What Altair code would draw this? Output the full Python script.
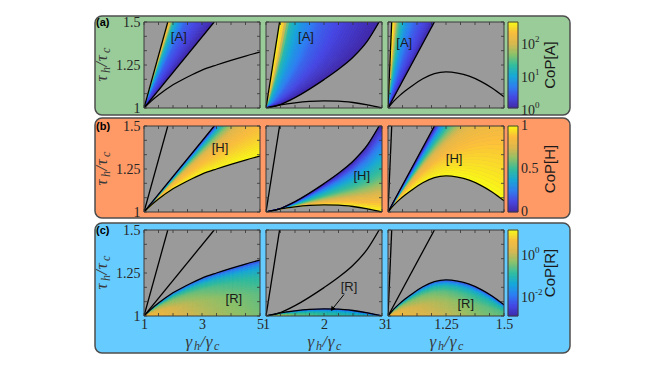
import numpy as np
import pandas as pd
import altair as alt

# ---------------- values ----------------
XDOM = [[1, 5], [1, 3], [1, 1.5]]
YDOM = [1.0, 1.5]
X_LABELS = [[1, 3, 5], [1, 2, 3], [1, 1.25, 1.5]]
Y_LABELS = [1, 1.25, 1.5]
X_MINOR = [[1, 1.5, 2, 2.5, 3, 3.5, 4, 4.5, 5],
           [1, 1.25, 1.5, 1.75, 2, 2.25, 2.5, 2.75, 3],
           [1, 1.0625, 1.125, 1.1875, 1.25, 1.3125, 1.375, 1.4375, 1.5]]
Y_MINOR = [1, 1.0833, 1.1667, 1.25, 1.3333, 1.4167, 1.5]

# straight boundary lines through (1,1): gamma where they reach tau = 1.5
L1_TOP = [1.82, 1.234, 1.016]
L2_TOP = [3.42, None, 1.2]
# convex boundary (middle column)
C2_G = [1.0, 1.25, 1.5, 1.75, 2.0, 2.25, 2.5, 2.75, 2.95]
C2_T = [1.0, 1.02, 1.06, 1.11, 1.165, 1.225, 1.295, 1.39, 1.5]
# lower curved boundary
C3_G = [[1, 1.25, 1.5, 2, 2.5, 3, 3.5, 4, 4.5, 5],
        [1, 1.25, 1.5, 1.75, 2, 2.25, 2.5, 2.75, 3],
        [1, 1.025, 1.05, 1.075, 1.1, 1.15, 1.2, 1.25, 1.3, 1.35, 1.4, 1.45, 1.5]]
C3_T = [[1, 1.04, 1.075, 1.135, 1.18, 1.22, 1.25, 1.277, 1.302, 1.325],
        [1, 1.018, 1.03, 1.038, 1.041, 1.04, 1.032, 1.018, 1.0],
        [1, 1.04, 1.072, 1.1, 1.125, 1.17, 1.2, 1.21, 1.203, 1.185, 1.155, 1.115, 1.065]]

# [A]: log10 CoP across the band (fraction from steep line to right boundary)
A_F = [[0, 0.02, 0.06, 0.09, 0.13, 0.24, 0.38, 0.75, 1.0],
       [0, 0.033, 0.05, 0.083, 0.117, 0.23, 0.4, 0.7, 1.0],
       [0, 0.06, 0.09, 0.14, 0.23, 0.35, 0.55, 0.86, 1.0]]
A_LOG = [2.6, 2.47, 2.08, 1.56, 1.17, 0.82, 0.5, 0.22, 0.0]
A_LOGMAX = 2.6

# [H]: CoP across the band (fraction from lower curve to upper boundary)
H_T = [[0, 0.2, 0.4, 0.55, 0.7, 0.82, 0.92, 0.97, 1.0],
       [0, 0.13, 0.27, 0.4, 0.6, 0.8, 0.93, 1.0],
       [0, 0.25, 0.44, 0.51, 0.61, 0.72, 0.83, 0.93, 1.0]]
H_COP = [[1, 0.92, 0.86, 0.79, 0.63, 0.47, 0.3, 0.14, 0.0],
         [1, 0.85, 0.7, 0.55, 0.4, 0.22, 0.08, 0.0],
         [1, 0.9, 0.8, 0.72, 0.58, 0.43, 0.28, 0.1, 0.0]]

# [R]: log10 CoP table (rows: gamma, columns: fraction of height under the curve)
R_T = [0, 0.4, 0.7, 0.85, 0.95, 1.0]
R_G = [[1, 2, 3, 4, 5], [1, 1.5, 2, 2.5, 3], [1, 1.1, 1.25, 1.4, 1.5]]
R_LOG = [
    [[0.67, 0.41, -0.14, -0.72, -1.53, -2.27],
     [0.20, 0.00, -0.48, -1.00, -1.70, -2.36],
     [-0.10, -0.28, -0.70, -1.16, -1.81, -2.41],
     [-0.35, -0.50, -0.88, -1.31, -1.91, -2.46],
     [-0.55, -0.70, -1.05, -1.45, -2.00, -2.50]],
    [[0.47, 0.22, -0.29, -0.85, -1.61, -2.31],
     [-0.55, -0.72, -1.09, -1.48, -2.02, -2.51],
     [-0.88, -1.03, -1.34, -1.69, -2.15, -2.58],
     [-1.08, -1.22, -1.50, -1.81, -2.23, -2.62],
     [-1.29, -1.40, -1.66, -1.94, -2.31, -2.66]],
    [[0.67, 0.41, -0.14, -0.72, -1.53, -2.27],
     [0.26, 0.04, -0.45, -0.98, -1.69, -2.35],
     [-0.06, -0.27, -0.71, -1.18, -1.82, -2.41],
     [-0.47, -0.65, -1.03, -1.43, -1.99, -2.49],
     [-0.63, -0.80, -1.16, -1.53, -2.05, -2.53]]]
R_LOGMIN, R_LOGMAX = -3.0, 1.08

# region tags
TAGS = {(0, 0): ("[A]", 2.2, 1.41), (0, 1): ("[A]", 1.69, 1.41), (0, 2): ("[A]", 1.07, 1.38),
        (1, 0): ("[H]", 3.62, 1.375), (1, 1): ("[H]", 2.65, 1.208), (1, 2): ("[H]", 1.285, 1.306),
        (2, 0): ("[R]", 4.1, 1.10), (2, 1): ("[R]", 2.43, 1.167), (2, 2): ("[R]", 1.335, 1.07)}
ARROW_G = [2.345, 2.15]
ARROW_T = [1.125, 1.043]

ROW_LETTERS = ["(a)", "(b)", "(c)"]
CB_TITLES = ["CoP[A]", "CoP[H]", "CoP[R]"]
CB_TICKS = [[1, 10, 100], [0, 0.5, 1], [1, 0.01]]
CB_BASE = [["10", "10", "10"], ["0", "0.5", "1"], ["10", "10"]]
CB_EXP = [["0", "1", "2"], ["", "", ""], ["0", "-2"]]

# ---------------- style ----------------
PARULA = ["#3e26a8", "#4545e6", "#2c7ef4", "#14a8da", "#2fbd9f", "#8cc26a",
          "#dcb84e", "#fcbd3c", "#f9fb14"]
PSTOPS = [0, 0.125, 0.25, 0.375, 0.5, 0.625, 0.75, 0.875, 1.0]
BG = ["#99cc99", "#ff9966", "#66ccff"]
BG_Y = [(-6, 93), (-8, 92), (-7, 123)]
GRAY = "#9a9a9a"
SERIF = "Liberation Serif"
SANS = "Liberation Sans"
W, H, CBW, DW = 116, 86, 6, 1
COLGAP, ROWGAP = 6, 18
P1_LEFT = DW + COLGAP          # left edge of first plot, relative to decoration view

CSC = alt.Scale(domain=PSTOPS, range=PARULA, interpolate="rgb")
ONE = pd.DataFrame({"k": [0]})


def interp_rows_a(c):
    taus = np.linspace(1, 1.5, 41)
    gl = 1 + (taus - 1) * (L1_TOP[c] - 1) / 0.5
    if c == 1:
        gr = np.interp(taus, C2_T, C2_G)
    else:
        gr = 1 + (taus - 1) * (L2_TOP[c] - 1) / 0.5
    fs = np.linspace(0, 1, 41)
    recs = []
    for k in range(len(fs) - 1):
        fm = 0.5 * (fs[k] + fs[k + 1])
        lv = float(np.interp(fm, A_F[c], A_LOG)) / A_LOGMAX
        for t, a, b in zip(taus, gl, gr):
            recs.append((k, round(t, 5), round(a + fs[k] * (b - a), 5),
                         round(a + fs[k + 1] * (b - a), 5), round(lv, 4)))
    return pd.DataFrame(recs, columns=["s", "t", "xa", "xb", "lv"])


def interp_rows_b(c):
    gs = np.linspace(XDOM[c][0], XDOM[c][1], 61)
    lo = np.interp(gs, C3_G[c], C3_T[c])
    if c == 1:
        hi = np.interp(gs, C2_G, C2_T)
    else:
        hi = 1 + (gs - 1) * 0.5 / (L2_TOP[c] - 1)
    ts = np.linspace(0, 1, 41)
    recs = []
    for k in range(len(ts) - 1):
        tm = 0.5 * (ts[k] + ts[k + 1])
        lv = float(np.interp(tm, H_T[c], H_COP[c]))
        for g, a, b in zip(gs, lo, hi):
            recs.append((k, round(g, 5), round(a + ts[k] * (b - a), 5),
                         round(a + ts[k + 1] * (b - a), 5), round(lv, 4)))
    return pd.DataFrame(recs, columns=["s", "g", "ya", "yb", "lv"])


def interp_cells_c(c):
    ge = np.linspace(XDOM[c][0], XDOM[c][1], 91)
    te = np.linspace(0, 1, 25)
    tab = np.array(R_LOG[c])
    recs = []
    for i in range(len(ge) - 1):
        gm = 0.5 * (ge[i] + ge[i + 1])
        top = float(np.interp(gm, C3_G[c], C3_T[c]))
        prof = [np.interp(gm, R_G[c], tab[:, j]) for j in range(len(R_T))]
        for j in range(len(te) - 1):
            tm = 0.5 * (te[j] + te[j + 1])
            lg = float(np.interp(tm, R_T, prof))
            lv = (lg - R_LOGMIN) / (R_LOGMAX - R_LOGMIN)
            recs.append((round(ge[i], 5), round(ge[i + 1], 5),
                         round(1 + te[j] * (top - 1), 5), round(1 + te[j + 1] * (top - 1), 5),
                         round(lv, 4)))
    return pd.DataFrame(recs, columns=["xa", "xb", "ya", "yb", "lv"])


def lines_df(c):
    recs = [("L1", 0, 1.0, 1.0), ("L1", 1, L1_TOP[c], 1.5)]
    if c == 1:
        recs += [("C2", i, g, t) for i, (g, t) in enumerate(zip(C2_G, C2_T))]
    else:
        recs += [("L2", 0, 1.0, 1.0), ("L2", 1, L2_TOP[c], 1.5)]
    recs += [("C3", i, g, t) for i, (g, t) in enumerate(zip(C3_G[c], C3_T[c]))]
    return pd.DataFrame(recs, columns=["curve", "i", "g", "t"])


def title_pieces(kind, x, y):
    # composite italic serif title with subscripts
    sym = "τ" if kind == "y" else "γ"
    pieces = [(sym, 0, 0, 17), ("h", 8.6, 3, 12), ("/", 14.8, 0, 17), (sym, 20.2, 0, 17), ("c", 28.4, 3, 12)]
    out = []
    for s, off, sub, size in pieces:
        kw = dict(text=s, font=SERIF, fontStyle="italic", fontSize=size, align="left",
                  baseline="alphabetic", dx=off - 16.5, dy=sub, color="#3a3a3a")
        if kind == "y":
            kw["angle"] = 270
        out.append(alt.Chart(ONE).mark_text(**kw).encode(x=alt.value(x), y=alt.value(y)))
    return out


def decoration(r):
    """Row background panel, row letter and the y title (drawn first in each row)."""
    y0, y1 = BG_Y[r]
    layers = [alt.Chart(ONE).mark_rect(cornerRadius=7, fill=BG[r], stroke="#4d4d4d", strokeWidth=1.5)
              .encode(x=alt.value(P1_LEFT - 49), x2=alt.value(P1_LEFT + 426),
                      y=alt.value(y0), y2=alt.value(y1))]
    layers.append(alt.Chart(ONE).mark_text(text=ROW_LETTERS[r], font=SANS, fontWeight="bold",
                                           fontSize=11, align="left", baseline="middle", color="black")
                  .encode(x=alt.value(P1_LEFT - 48), y=alt.value(1)))
    layers += title_pieces("y", P1_LEFT - 37, H / 2)
    return alt.layer(*layers).properties(width=DW, height=H)


def panel(r, c):
    xsc = alt.Scale(domain=XDOM[c], nice=False, zero=False)
    ysc = alt.Scale(domain=YDOM, nice=False, zero=False)
    if r == 2:
        xax = alt.Axis(values=X_LABELS[c], labelExpr="'' + datum.value", labelFlush=False,
                       labelPadding=1, title=None)
    else:
        xax = None
    if c == 0:
        yax = alt.Axis(values=Y_LABELS, labelExpr="'' + datum.value", labelFlush=False,
                       labelPadding=4, title=None)
    else:
        yax = None

    def X(f):
        return alt.X(f, type="quantitative", scale=xsc, axis=xax)

    def Y(f):
        return alt.Y(f, type="quantitative", scale=ysc, axis=yax)

    layers = []
    frame = pd.DataFrame({"x0": [XDOM[c][0]], "x1": [XDOM[c][1]], "y0": [YDOM[0]], "y1": [YDOM[1]]})
    layers.append(alt.Chart(frame).mark_rect(color=GRAY).encode(x=X("x0"), x2="x1", y=Y("y0"), y2="y1"))

    col = alt.Color("lv:Q", scale=CSC, legend=None)
    stk = alt.Stroke("lv:Q", scale=CSC, legend=None)
    if r == 0:
        layers.append(alt.Chart(interp_rows_a(c)).mark_area(orient="horizontal", clip=True, strokeWidth=0.6)
                      .encode(y=Y("t"), x=X("xa"), x2="xb", detail="s:N", color=col, stroke=stk))
    elif r == 1:
        layers.append(alt.Chart(interp_rows_b(c)).mark_area(orient="vertical", clip=True, strokeWidth=0.6)
                      .encode(x=X("g"), y=Y("ya"), y2="yb", detail="s:N", color=col, stroke=stk))
    else:
        layers.append(alt.Chart(interp_cells_c(c)).mark_rect(clip=True, strokeWidth=0.5)
                      .encode(x=X("xa"), x2="xb", y=Y("ya"), y2="yb", color=col, stroke=stk))

    layers.append(alt.Chart(lines_df(c)).mark_line(color="black", strokeWidth=1.3, clip=True,
                                                   interpolate="monotone")
                  .encode(x=X("g"), y=Y("t"), detail="curve:N", order="i:Q"))

    tag, tg, tt = TAGS[(r, c)]
    layers.append(alt.Chart(pd.DataFrame({"g": [tg], "t": [tt], "s": [tag]}))
                  .mark_text(font=SANS, fontSize=13, color="#1a1a1a")
                  .encode(x=X("g"), y=Y("t"), text="s:N"))
    if (r, c) == (2, 1):
        adf = pd.DataFrame({"g": ARROW_G, "t": ARROW_T, "i": [0, 1]})
        layers.append(alt.Chart(adf).mark_line(color="black", strokeWidth=1)
                      .encode(x=X("g"), y=Y("t"), order="i:Q"))
        layers.append(alt.Chart(adf.iloc[[1]]).mark_point(shape="triangle", filled=True, size=28,
                                                          angle=218, color="black", opacity=1)
                      .encode(x=X("g"), y=Y("t")))

    # inward ticks on all four sides
    tx = pd.DataFrame({"v": X_MINOR[c]})
    ty = pd.DataFrame({"v": Y_MINOR})
    tk = dict(color="#333333", strokeWidth=0.8)
    layers.append(alt.Chart(tx).mark_rule(**tk).encode(x=X("v"), y=alt.value(H), y2=alt.value(H - 3)))
    layers.append(alt.Chart(tx).mark_rule(**tk).encode(x=X("v"), y=alt.value(0), y2=alt.value(3)))
    layers.append(alt.Chart(ty).mark_rule(**tk).encode(y=Y("v"), x=alt.value(0), x2=alt.value(3)))
    layers.append(alt.Chart(ty).mark_rule(**tk).encode(y=Y("v"), x=alt.value(W), x2=alt.value(W - 3)))
    layers.append(alt.Chart(frame).mark_rect(fillOpacity=0, stroke="#3a3a3a", strokeWidth=1)
                  .encode(x=X("x0"), x2="x1", y=Y("y0"), y2="y1"))

    if r == 2:
        layers += title_pieces("x", W / 2, H + 31)

    return alt.layer(*layers).properties(width=W, height=H)


def colorbar(r):
    if r == 1:
        ysc = alt.Scale(type="linear", domain=[0, 1], nice=False, zero=False)
        e = np.linspace(0, 1, 121)
        lv = 0.5 * (e[:-1] + e[1:])
    elif r == 0:
        ysc = alt.Scale(type="log", domain=[1, 10 ** A_LOGMAX], nice=False)
        le = np.linspace(0, A_LOGMAX, 121)
        e = 10 ** le
        lv = 0.5 * (le[:-1] + le[1:]) / A_LOGMAX
    else:
        ysc = alt.Scale(type="log", domain=[10 ** R_LOGMIN, 10 ** R_LOGMAX], nice=False)
        le = np.linspace(R_LOGMIN, R_LOGMAX, 121)
        e = 10 ** le
        lv = (0.5 * (le[:-1] + le[1:]) - R_LOGMIN) / (R_LOGMAX - R_LOGMIN)
    df = pd.DataFrame({"lo": e[:-1], "hi": e[1:], "lv": lv})
    Y = alt.Y("lo:Q", scale=ysc, axis=None)
    x0, x1 = -2, CBW + 2
    layers = [alt.Chart(df).mark_rect(strokeWidth=0.5)
              .encode(x=alt.value(x0), x2=alt.value(x1), y=Y, y2="hi",
                      color=alt.Color("lv:Q", scale=CSC, legend=None),
                      stroke=alt.Stroke("lv:Q", scale=CSC, legend=None))]
    layers.append(alt.Chart(ONE).mark_rect(fillOpacity=0, stroke="#3a3a3a", strokeWidth=1)
                  .encode(x=alt.value(x0), x2=alt.value(x1), y=alt.value(0), y2=alt.value(H)))
    n = len(CB_TICKS[r])
    lab = pd.DataFrame({"lo": CB_TICKS[r], "b": CB_BASE[r][:n], "e": CB_EXP[r][:n]})
    dyb = 3 if r != 1 else 0
    layers.append(alt.Chart(lab).mark_text(font=SERIF, fontSize=14, align="left", baseline="middle",
                                           dy=dyb, color="#262626")
                  .encode(x=alt.value(x1 + 3), y=alt.Y("lo:Q", scale=ysc, axis=None), text="b:N"))
    if r != 1:
        layers.append(alt.Chart(lab).mark_text(font=SERIF, fontSize=9, align="left", baseline="middle",
                                               dy=-3, color="#262626")
                      .encode(x=alt.value(x1 + 17), y=alt.Y("lo:Q", scale=ysc, axis=None), text="e:N"))
    layers.append(alt.Chart(ONE).mark_text(text=CB_TITLES[r], font=SANS, fontSize=15, angle=270,
                                           align="center", baseline="middle", color="#1a1a1a")
                  .encode(x=alt.value(40), y=alt.value(H / 2)))
    return alt.layer(*layers).properties(width=CBW, height=H)


cells = []
for r in range(3):
    cells.append(decoration(r))
    cells += [panel(r, c) for c in range(3)]
    cells.append(colorbar(r))

chart = (alt.concat(*cells, columns=5, spacing={"row": ROWGAP, "column": COLGAP}, bounds="flush")
         .resolve_scale(color="independent", stroke="independent")
         .properties(padding={"left": 84, "top": 6, "right": 5, "bottom": 5})
         .configure_view(stroke="transparent")
         .configure_axis(labelFont=SERIF, labelFontSize=14, labelColor="#262626", domain=False,
                         ticks=False, grid=False, zindex=1))

chart.save("out.html", embed_options={"renderer": "svg", "actions": False})
